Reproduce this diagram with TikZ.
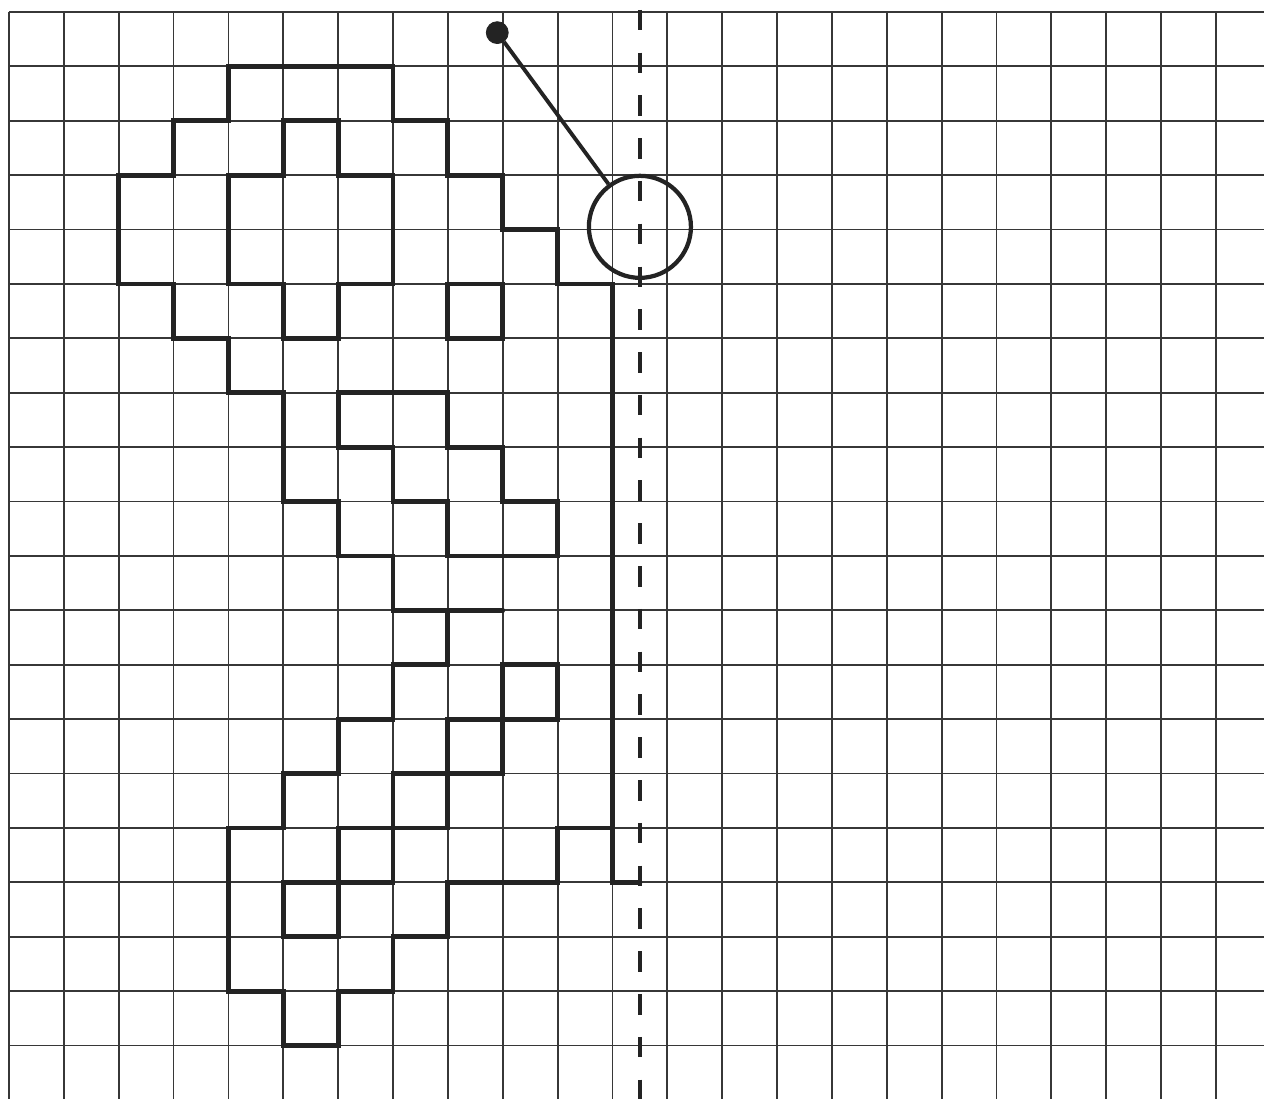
\documentclass[tikz,border=0pt]{standalone}
\usepackage{tikz}
\usetikzlibrary{positioning,calc}
\definecolor{GridInk}{RGB}{55,55,55}
\definecolor{FigInk}{RGB}{35,35,35}
\tikzset{
	gridline/.style={draw=GridInk,line width=0.95pt},
	outline/.style={draw=FigInk,line width=2.5pt,line cap=round,line join=miter},
	axis/.style={draw=FigInk,line width=2.2pt,dash pattern=on 0.374cm off 0.406cm},
	lens/.style={circle,draw=FigInk,line width=2.2pt,minimum size=1.86cm,inner sep=0pt},
	pin/.style={circle,fill=FigInk,draw=FigInk,minimum size=0.4cm,inner sep=0pt},
	stem/.style={draw=FigInk,line width=2pt},
}
\begin{document}
\begin{tikzpicture}[x=1cm,y=0.9916cm]
	\useasboundingbox[fill=white] (-0.164,0.22) rectangle (22.876,-19.98);
	\foreach \r in {0,...,19}
	\draw[gridline] (0,-\r) -- (22.876,-\r);
	\foreach \c in {0,...,22}
	\draw[gridline] (\c,0) -- (\c,-19.98);
	\draw[outline] (11.5,-16) -- (11,-16) -- (11,-5) -- (10,-5) -- (10,-4) -- (9,-4) -- (9,-3) -- (8,-3) -- (8,-2) -- (7,-2) -- (7,-1) -- (4,-1) -- (4,-2) -- (3,-2) -- (3,-3) -- (2,-3) -- (2,-5) -- (3,-5) -- (3,-6) -- (4,-6) -- (4,-7) -- (5,-7) -- (5,-9) -- (6,-9) -- (6,-10) -- (7,-10) -- (7,-11) -- (9,-11);
	\draw[outline] (8,-11) -- (8,-12) -- (7,-12) -- (7,-13) -- (6,-13) -- (6,-14) -- (5,-14) -- (5,-15) -- (4,-15) -- (4,-18) -- (5,-18) -- (5,-19) -- (6,-19) -- (6,-18) -- (7,-18) -- (7,-17) -- (8,-17) -- (8,-16) -- (10,-16) -- (10,-15) -- (11,-15);
	\draw[outline] (5,-2) -- (6,-2) -- (6,-3) -- (7,-3) -- (7,-5) -- (6,-5) -- (6,-6) -- (5,-6) -- (5,-5) -- (4,-5) -- (4,-3) -- (5,-3) -- cycle;
	\draw[outline] (6,-7) -- (8,-7) -- (8,-8) -- (9,-8) -- (9,-9) -- (10,-9) -- (10,-10) -- (8,-10) -- (8,-9) -- (7,-9) -- (7,-8) -- (6,-8) -- cycle;
	\draw[outline] (8,-5) rectangle (9,-6);
	\foreach \k in {0,...,4}
	\draw[outline] (9-\k,-12-\k) rectangle ++(1,-1);
	\coordinate (axistop) at (11.5,0.04);
	\coordinate (axisend) at (11.5,-19.98);
	\draw[axis] (axistop) -- (axisend);
	\node[lens] (lens) at (11.5,-3.95) {};
	\node[pin] (pin) at (8.9,-0.38) {};
	\draw[stem] (pin) -- (lens);
\end{tikzpicture}
\end{document}
